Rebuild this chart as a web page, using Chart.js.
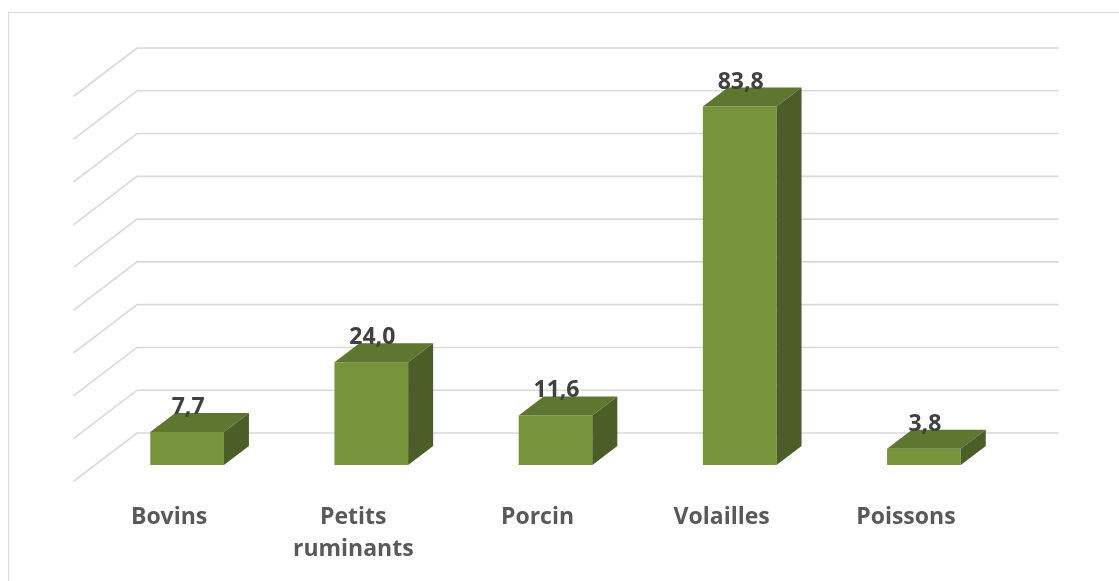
<!DOCTYPE html>
<html>
<head>
<meta charset="utf-8">
<script src="https://cdn.jsdelivr.net/npm/chart.js"></script>
<style>
  html, body { margin: 0; padding: 0; background: #ffffff; }
  canvas { display: block; }
</style>
</head>
<body>
<canvas id="barChart" width="1119" height="581"></canvas>
<script>
// categories and values (share in %)
var categories = ['Bovins', ['Petits', 'ruminants'], 'Porcin', 'Volailles', 'Poissons'];
var values = [7.7, 24.0, 11.6, 83.8, 3.8];

// value axis range, one gridline every 10
var axisMin = 0;
var axisMax = 90;
var axisStep = 10;

var frontColor = '#77933c';
var topColor = '#5f7630';
var sideColor = '#4b5e27';
var gridColor = '#d9d9d9';

// pseudo 3D offsets, in pixels, from the plane of the bar fronts
var wallDx = 42, wallDy = -32;   // back wall
var floorDx = -21, floorDy = 16; // front edge of the floor
var barDx = 25, barDy = -19;     // depth of each bar

var fake3d = {
  id: 'fake3d',
  beforeDraw: function(chart) {
    var ctx = chart.ctx;
    ctx.save();
    ctx.fillStyle = '#ffffff';
    ctx.fillRect(0, 0, chart.width, chart.height);
    // outer frame
    ctx.strokeStyle = gridColor;
    ctx.lineWidth = 1;
    ctx.strokeRect(8.5, 12.5, chart.width + 20, chart.height + 20);
    ctx.restore();
  },
  beforeDatasetsDraw: function(chart) {
    var ctx = chart.ctx;
    var area = chart.chartArea;
    var y = chart.scales.y;
    ctx.save();
    ctx.strokeStyle = gridColor;
    ctx.lineWidth = 1.6;
    ctx.lineCap = 'round';
    y.ticks.forEach(function(t) {
      var py = y.getPixelForValue(t.value);
      ctx.beginPath();
      ctx.moveTo(area.left + floorDx, py + floorDy);
      ctx.lineTo(area.left + wallDx, py + wallDy);
      ctx.lineTo(area.right + wallDx, py + wallDy);
      ctx.stroke();
    });
    ctx.restore();
  },
  afterDatasetsDraw: function(chart) {
    var ctx = chart.ctx;
    var meta = chart.getDatasetMeta(0);
    ctx.save();
    meta.data.forEach(function(bar, i) {
      var p = bar.getProps(['x', 'y', 'base', 'width'], true);
      var l = p.x - p.width / 2, r = p.x + p.width / 2;
      // top face
      ctx.fillStyle = topColor;
      ctx.beginPath();
      ctx.moveTo(l, p.y);
      ctx.lineTo(l + barDx, p.y + barDy);
      ctx.lineTo(r + barDx, p.y + barDy);
      ctx.lineTo(r, p.y);
      ctx.closePath();
      ctx.fill();
      // right side face
      ctx.fillStyle = sideColor;
      ctx.beginPath();
      ctx.moveTo(r, p.y);
      ctx.lineTo(r + barDx, p.y + barDy);
      ctx.lineTo(r + barDx, p.base + barDy);
      ctx.lineTo(r, p.base);
      ctx.closePath();
      ctx.fill();
    });
    // value labels
    ctx.fillStyle = '#404040';
    ctx.font = 'bold 23px "Open Sans", sans-serif';
    ctx.textAlign = 'center';
    ctx.textBaseline = 'alphabetic';
    meta.data.forEach(function(bar, i) {
      var p = bar.getProps(['x', 'y'], true);
      ctx.fillText(values[i].toFixed(1).replace('.', ','), p.x + 1, p.y + barDy + 1);
    });
    ctx.restore();
  }
};

var ctx = document.getElementById('barChart').getContext('2d');
var chart = new Chart(ctx, {
  type: 'bar',
  data: {
    labels: categories,
    datasets: [{
      data: values,
      backgroundColor: frontColor,
      borderWidth: 0,
      categoryPercentage: 1,
      barPercentage: 0.4
    }]
  },
  options: {
    responsive: false,
    animation: false,
    layout: { padding: { left: 95, right: 103, top: 80, bottom: 0 } },
    plugins: {
      legend: { display: false },
      tooltip: { enabled: false }
    },
    scales: {
      x: {
        grid: { display: false, drawTicks: false },
        border: { display: false },
        afterFit: function(s) { s.height = 116; },
        ticks: {
          padding: 36,
          labelOffset: -18,
          maxRotation: 0,
          color: '#595959',
          font: { family: '"Open Sans", sans-serif', size: 23, weight: 'bold', lineHeight: 1.4 }
        }
      },
      y: {
        display: false,
        min: axisMin,
        max: axisMax,
        ticks: { stepSize: axisStep }
      }
    }
  },
  plugins: [fake3d]
});
</script>
</body>
</html>
